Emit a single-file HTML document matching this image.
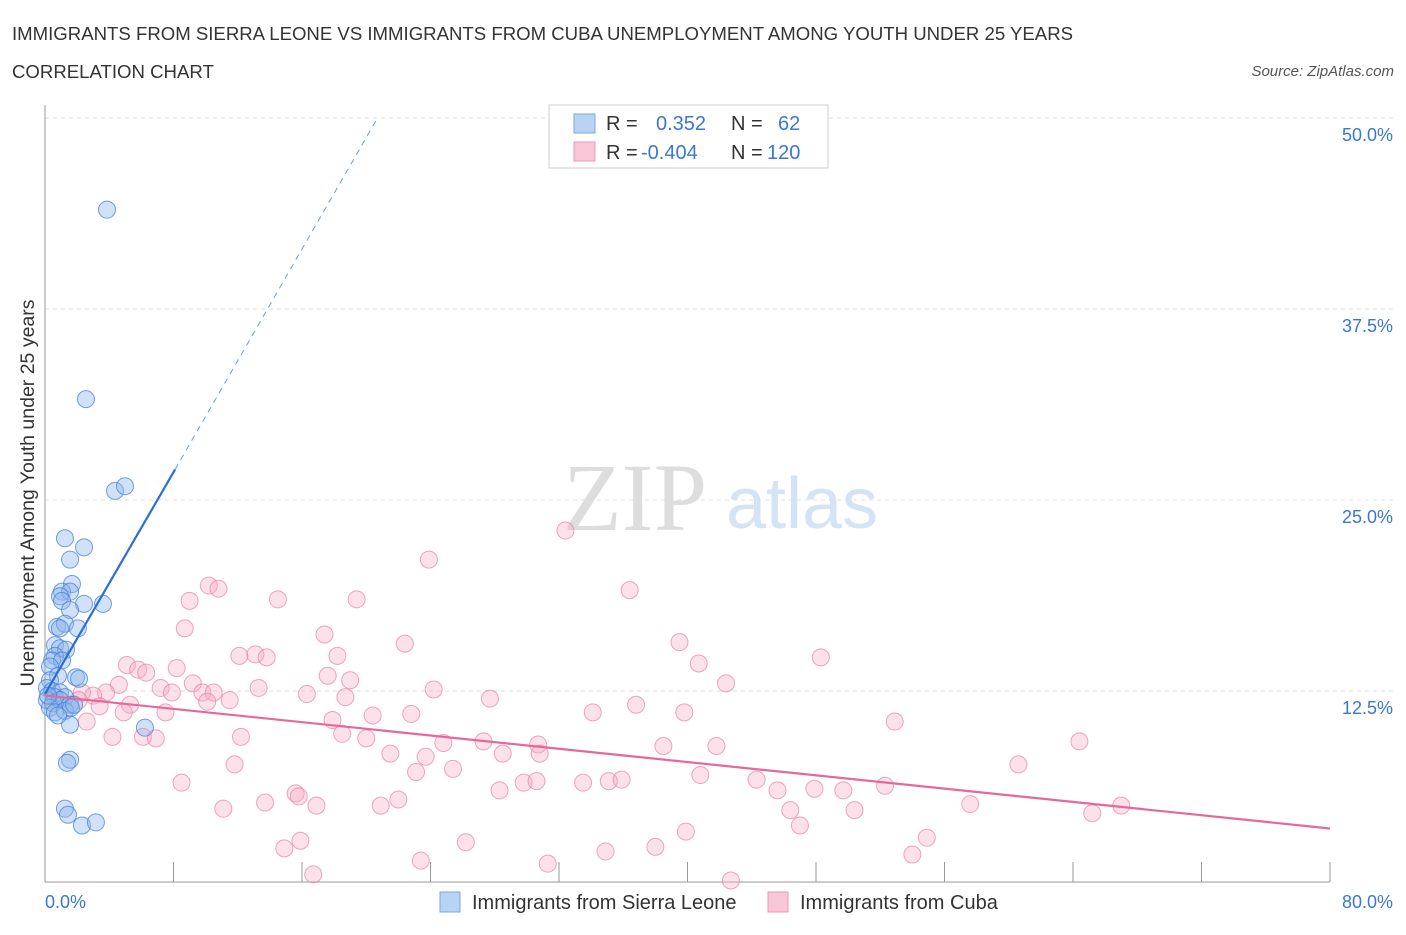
<!DOCTYPE html>
<html><head><meta charset="utf-8"><style>
body{margin:0;background:#fff;font-family:"Liberation Sans",sans-serif;}
svg text{font-family:"Liberation Sans",sans-serif;}
</style></head><body>
<svg id="c" width="1406" height="930" xmlns="http://www.w3.org/2000/svg">
<text x="12" y="40" font-size="18.6" fill="#333">IMMIGRANTS FROM SIERRA LEONE VS IMMIGRANTS FROM CUBA UNEMPLOYMENT AMONG YOUTH UNDER 25 YEARS</text>
<text x="12" y="78" font-size="18.6" fill="#333">CORRELATION CHART</text>
<text x="1394" y="76" font-size="15" fill="#555" font-style="italic" text-anchor="end">Source: ZipAtlas.com</text>
<text x="635" y="530" font-size="96" fill="#ddd" font-family="Liberation Serif" text-anchor="middle" style="font-family:'Liberation Serif',serif">ZIP</text>
<text x="802" y="528" font-size="72" fill="#d4e3f5" text-anchor="middle">atlas</text>
<g id="grid"></g>
<line x1="45" y1="105" x2="45" y2="882" stroke="#999"/>
<line x1="45" y1="882" x2="1330" y2="882" stroke="#999"/>
<text transform="translate(34,493) rotate(-90)" font-size="19.5" fill="#333" text-anchor="middle">Unemployment Among Youth under 25 years</text>
<text x="45" y="908" font-size="18" fill="#3a78d0">0.0%</text>
<text x="1393" y="908" font-size="18" fill="#3a78d0" text-anchor="end">80.0%</text>
<g id="pts"></g>
<g id="lines"></g>
<g>
<rect x="549" y="105" width="279" height="63" fill="#fff" stroke="#ccc"/>
<rect x="574" y="114" width="21" height="19" fill="#b9d3f5" stroke="#7aa7e3"/>
<rect x="574" y="142" width="21" height="19" fill="#f8c6d6" stroke="#ec9ab5"/>
<text x="606" y="130" font-size="20" fill="#333">R = </text>
<text x="656" y="130" font-size="20" fill="#3a78d0">0.352</text>
<text x="731" y="130" font-size="20" fill="#333">N = </text>
<text x="778" y="130" font-size="20" fill="#3a78d0">62</text>
<text x="606" y="159" font-size="20" fill="#333">R = </text>
<text x="641" y="159" font-size="20" fill="#3a78d0">-0.404</text>
<text x="731" y="159" font-size="20" fill="#333">N = </text>
<text x="767" y="159" font-size="20" fill="#3a78d0">120</text>
</g>
<g>
<rect x="440" y="892" width="20" height="20" fill="#b9d3f5" stroke="#7aa7e3"/>
<text x="472" y="909" font-size="20" fill="#333">Immigrants from Sierra Leone</text>
<rect x="768" y="892" width="20" height="20" fill="#f8c6d6" stroke="#ec9ab5"/>
<text x="800" y="909" font-size="20" fill="#333">Immigrants from Cuba</text>
</g>
</svg>
<script>
const yTicks=[12.5,25,37.5,50];
const yTickLabels=["12.5%","25.0%","37.5%","50.0%"];
const xTicks=[0,8,16,24,32,40,48,56,64,72,80];
const blueX=[3.86,2.55,4.36,4.98,1.24,2.43,1.56,1.68,1.06,1.56,0.93,1.06,2.43,3.61,1.56,0.75,1.24,2.05,0.93,0.62,0.93,1.31,0.62,0.44,1.06,0.31,0.81,1.93,2.12,0.31,0.12,0.44,0.93,0.62,1.24,0.12,0.5,0.93,1.56,0.31,0.62,1.24,1.62,1.81,6.22,1.56,1.56,1.37,1.24,1.43,2.3,3.17,0.19,0.81];
const blueY=[44.0,31.6,25.6,25.9,22.5,21.9,21.1,19.5,19.0,19.0,18.7,18.4,18.2,18.2,17.8,16.7,16.9,16.6,16.6,15.5,15.3,15.2,14.8,14.5,14.5,14.1,13.5,13.4,13.3,13.2,12.7,12.5,12.4,12.1,12.1,11.9,11.7,11.9,11.6,11.4,11.1,11.2,11.4,11.6,10.1,10.3,8.0,7.8,4.8,4.4,3.7,3.9,12.2,10.9];
const pinkX=[32.4,23.9,36.4,10.2,10.8,9.0,14.5,19.4,8.7,17.4,22.4,39.5,48.3,40.7,42.4,5.1,5.8,6.3,8.2,12.1,13.1,13.8,18.2,17.6,19.0,9.2,7.2,4.6,3.8,3.0,2.3,2.1,3.4,5.3,7.9,9.8,10.5,11.5,10.1,13.3,16.3,18.7,24.2,27.7,4.9,7.5,2.6,20.4,22.8,34.1,36.8,39.8,52.9,17.9,18.5,4.2,6.1,6.9,12.2,20.0,24.8,27.3,28.5,30.7,30.8,38.5,41.8,64.4,11.8,21.5,23.7,23.1,25.4,60.6,29.8,30.6,28.3,33.5,35.1,35.9,44.3,45.6,47.9,49.7,52.3,8.5,15.6,15.8,22.0,20.9,16.9,13.7,11.1,46.4,50.4,57.6,67.0,65.2,47.0,39.9,54.9,15.9,26.2,14.9,34.9,38.0,23.4,31.3,54.0,16.7,42.7,40.8];
const pinkY=[23.0,21.1,19.1,19.4,19.2,18.4,18.5,18.5,16.6,16.2,15.6,15.7,14.7,14.3,13.0,14.2,13.9,13.7,14.0,14.8,14.9,14.7,14.8,13.5,13.2,13.0,12.7,12.9,12.4,12.2,12.4,11.9,11.5,11.6,12.4,12.4,12.4,11.9,11.8,12.7,12.3,12.1,12.6,12.0,11.1,11.1,10.5,10.9,11.0,11.1,11.6,11.1,10.5,10.6,9.7,9.5,9.5,9.4,9.5,9.4,9.1,9.2,8.4,9.0,8.4,8.9,8.9,9.2,7.7,8.4,8.2,7.2,7.4,7.7,6.5,6.6,6.0,6.5,6.6,6.7,6.7,6.0,6.1,6.0,6.3,6.5,5.8,5.6,5.4,5.0,5.0,5.2,4.8,4.7,4.7,5.1,5.0,4.5,3.7,3.3,2.9,2.7,2.6,2.2,2.0,2.3,1.4,1.2,1.8,0.5,0.1,7.0];
const blueTrendX=[0,8.1,20.7];
const blueTrendY=[12.3,27.0,50.0];
const pinkTrendX=[0,80];
const pinkTrendY=[12.2,3.5];
const NS="http://www.w3.org/2000/svg";
const xs=v=>45+v*(1285/80);
const ys=v=>882-v*(764/50);
function mk(t,a,p){const e=document.createElementNS(NS,t);for(const k in a)e.setAttribute(k,a[k]);p.appendChild(e);return e;}
const grid=document.getElementById('grid');
yTicks.forEach((t,i)=>{
 const l=mk('line',{x1:45,x2:1393,y1:ys(t),y2:ys(t),stroke:'#ddd','stroke-dasharray':'4,4'},grid);
 
 
 const tx=mk('text',{x:1393,y:ys(t)+23,'font-size':18,fill:'#3a78d0','text-anchor':'end'},grid);
 tx.textContent=yTickLabels[i];
 
 
});
xTicks.forEach(t=>{
 const l=mk('line',{x1:xs(t),x2:xs(t),y1:862,y2:882,stroke:'#999'},grid);
 
 
});
const pts=document.getElementById('pts');
pinkX.forEach((x,i)=>{
 const c=mk('circle',{cx:xs(x),cy:ys(pinkY[i]),r:8.5,fill:'rgba(245,170,195,0.35)',stroke:'rgba(230,130,165,0.7)','stroke-width':1},pts);
 
 
});
blueX.forEach((x,i)=>{
 const c=mk('circle',{cx:xs(x),cy:ys(blueY[i]),r:8.5,fill:'rgba(140,180,235,0.4)',stroke:'rgba(70,130,215,0.75)','stroke-width':1},pts);
 
 
});
const lines=document.getElementById('lines');
const b1=mk('line',{x1:xs(blueTrendX[0]),y1:ys(blueTrendY[0]),x2:xs(blueTrendX[1]),y2:ys(blueTrendY[1]),stroke:'#2a6fd6','stroke-width':2.2},lines);


const b2=mk('line',{x1:xs(blueTrendX[1]),y1:ys(blueTrendY[1]),x2:xs(blueTrendX[2]),y2:ys(blueTrendY[2]),stroke:'#6a9de0','stroke-width':1,'stroke-dasharray':'6,5'},lines);


const p1=mk('line',{x1:xs(pinkTrendX[0]),y1:ys(pinkTrendY[0]),x2:xs(pinkTrendX[1]),y2:ys(pinkTrendY[1]),stroke:'#e8679a','stroke-width':2.2},lines);


</script>
</body></html>
